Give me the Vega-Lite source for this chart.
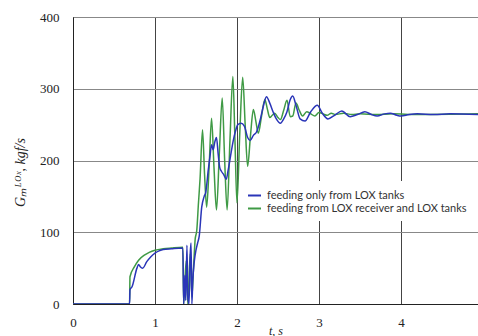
{
  "$schema": "https://vega.github.io/schema/vega-lite/v6.json",
  "autosize": {"type": "none"},
  "width": 405,
  "height": 287,
  "padding": {"left": 73, "top": 17, "right": 0, "bottom": 32},
  "background": "white",
  "config": {
    "view": {"stroke": "#333", "strokeWidth": 1},
    "axis": {"labelFont": "Liberation Serif", "labelFontSize": 13, "labelColor": "#222", "titleFont": "Liberation Serif", "titleFontStyle": "italic", "titleFontWeight": "normal", "titleFontSize": 13, "titleColor": "#222", "ticks": false, "domainColor": "#222"}
  },
  "data": {"values": [
    {"s":"g","t":0,"G":0},{"s":"g","t":0.69,"G":0},{"s":"g","t":0.695,"G":38},{"s":"g","t":0.75,"G":52},{"s":"g","t":0.8,"G":61},{"s":"g","t":0.87,"G":68},{"s":"g","t":0.93,"G":72},{"s":"g","t":1.0,"G":75},{"s":"g","t":1.1,"G":77},{"s":"g","t":1.2,"G":78},{"s":"g","t":1.34,"G":79},{"s":"g","t":1.35,"G":0},{"s":"g","t":1.38,"G":60},{"s":"g","t":1.40,"G":0},{"s":"g","t":1.43,"G":70},{"s":"g","t":1.45,"G":10},{"s":"g","t":1.47,"G":50},{"s":"g","t":1.49,"G":90},{"s":"g","t":1.51,"G":103},{"s":"g","t":1.53,"G":140},{"s":"g","t":1.55,"G":175},{"s":"g","t":1.58,"G":243},{"s":"g","t":1.605,"G":180},{"s":"g","t":1.63,"G":135},{"s":"g","t":1.66,"G":190},{"s":"g","t":1.69,"G":259},{"s":"g","t":1.72,"G":190},{"s":"g","t":1.75,"G":131},{"s":"g","t":1.785,"G":210},{"s":"g","t":1.82,"G":287},{"s":"g","t":1.85,"G":200},{"s":"g","t":1.88,"G":131},{"s":"g","t":1.915,"G":230},{"s":"g","t":1.95,"G":317},{"s":"g","t":1.975,"G":230},{"s":"g","t":2.0,"G":141},{"s":"g","t":2.035,"G":240},{"s":"g","t":2.07,"G":316},{"s":"g","t":2.10,"G":250},{"s":"g","t":2.13,"G":192},{"s":"g","t":2.165,"G":235},{"s":"g","t":2.2,"G":271},{"s":"g","t":2.23,"G":255},{"s":"g","t":2.26,"G":238},{"s":"g","t":2.30,"G":262},{"s":"g","t":2.34,"G":285},{"s":"g","t":2.37,"G":272},{"s":"g","t":2.40,"G":260},{"s":"g","t":2.43,"G":263},{"s":"g","t":2.46,"G":266},{"s":"g","t":2.5,"G":260},{"s":"g","t":2.53,"G":257},{"s":"g","t":2.57,"G":270},{"s":"g","t":2.61,"G":284},{"s":"g","t":2.65,"G":261},{"s":"g","t":2.68,"G":262},{"s":"g","t":2.72,"G":280},{"s":"g","t":2.76,"G":270},{"s":"g","t":2.80,"G":262},{"s":"g","t":2.85,"G":268},{"s":"g","t":2.90,"G":265},{"s":"g","t":2.95,"G":262},{"s":"g","t":3.0,"G":267},{"s":"g","t":3.05,"G":265},{"s":"g","t":3.1,"G":263},{"s":"g","t":3.15,"G":266},{"s":"g","t":3.2,"G":264},{"s":"g","t":3.3,"G":266},{"s":"g","t":3.4,"G":264},{"s":"g","t":3.5,"G":265},{"s":"g","t":3.7,"G":264},{"s":"g","t":3.9,"G":265},{"s":"g","t":4.2,"G":264},{"s":"g","t":4.94,"G":265},
    {"s":"b","t":0,"G":0},{"s":"b","t":0.69,"G":0},{"s":"b","t":0.695,"G":20},{"s":"b","t":0.72,"G":24},{"s":"b","t":0.78,"G":50},{"s":"b","t":0.80,"G":55},{"s":"b","t":0.82,"G":52},{"s":"b","t":0.85,"G":50},{"s":"b","t":0.9,"G":59},{"s":"b","t":0.95,"G":66},{"s":"b","t":1.0,"G":71},{"s":"b","t":1.05,"G":74},{"s":"b","t":1.1,"G":76},{"s":"b","t":1.2,"G":77},{"s":"b","t":1.34,"G":78},{"s":"b","t":1.35,"G":0},{"s":"b","t":1.365,"G":40},{"s":"b","t":1.375,"G":5},{"s":"b","t":1.39,"G":82},{"s":"b","t":1.40,"G":10},{"s":"b","t":1.415,"G":0},{"s":"b","t":1.43,"G":70},{"s":"b","t":1.44,"G":85},{"s":"b","t":1.45,"G":0},{"s":"b","t":1.46,"G":30},{"s":"b","t":1.48,"G":60},{"s":"b","t":1.50,"G":75},{"s":"b","t":1.52,"G":85},{"s":"b","t":1.54,"G":95},{"s":"b","t":1.57,"G":135},{"s":"b","t":1.60,"G":150},{"s":"b","t":1.62,"G":156},{"s":"b","t":1.65,"G":187},{"s":"b","t":1.67,"G":205},{"s":"b","t":1.69,"G":222},{"s":"b","t":1.71,"G":215},{"s":"b","t":1.73,"G":226},{"s":"b","t":1.75,"G":232},{"s":"b","t":1.77,"G":210},{"s":"b","t":1.79,"G":190},{"s":"b","t":1.81,"G":185},{"s":"b","t":1.84,"G":180},{"s":"b","t":1.87,"G":174},{"s":"b","t":1.89,"G":185},{"s":"b","t":1.92,"G":205},{"s":"b","t":1.95,"G":225},{"s":"b","t":1.98,"G":240},{"s":"b","t":2.01,"G":250},{"s":"b","t":2.05,"G":252},{"s":"b","t":2.09,"G":248},{"s":"b","t":2.13,"G":232},{"s":"b","t":2.16,"G":228},{"s":"b","t":2.2,"G":235},{"s":"b","t":2.24,"G":240},{"s":"b","t":2.28,"G":255},{"s":"b","t":2.32,"G":275},{"s":"b","t":2.36,"G":289},{"s":"b","t":2.40,"G":280},{"s":"b","t":2.44,"G":268},{"s":"b","t":2.48,"G":258},{"s":"b","t":2.53,"G":252},{"s":"b","t":2.57,"G":258},{"s":"b","t":2.61,"G":268},{"s":"b","t":2.65,"G":285},{"s":"b","t":2.68,"G":290},{"s":"b","t":2.72,"G":277},{"s":"b","t":2.77,"G":258},{"s":"b","t":2.83,"G":255},{"s":"b","t":2.9,"G":268},{"s":"b","t":2.98,"G":277},{"s":"b","t":3.04,"G":266},{"s":"b","t":3.11,"G":258},{"s":"b","t":3.19,"G":263},{"s":"b","t":3.28,"G":269},{"s":"b","t":3.38,"G":261},{"s":"b","t":3.47,"G":264},{"s":"b","t":3.56,"G":268},{"s":"b","t":3.64,"G":264},{"s":"b","t":3.71,"G":262},{"s":"b","t":3.8,"G":265},{"s":"b","t":3.87,"G":266},{"s":"b","t":3.95,"G":263},{"s":"b","t":4.0,"G":262},{"s":"b","t":4.1,"G":264},{"s":"b","t":4.2,"G":265},{"s":"b","t":4.4,"G":264},{"s":"b","t":4.6,"G":265},{"s":"b","t":4.94,"G":264}
  ]},
  "transform": [
    {"calculate": "datum.s === 'b' ? 'feeding only from LOX tanks' : 'feeding from LOX receiver and LOX tanks'", "as": "series"}
  ],
  "mark": {"type": "line", "interpolate": "monotone", "strokeWidth": 1.5, "clip": true},
  "encoding": {
    "x": {"field": "t", "type": "quantitative", "scale": {"domain": [0, 4.94], "nice": false, "zero": false},
      "axis": {"values": [0, 1, 2, 3, 4], "title": "t, s", "labelFont": "Liberation Serif", "labelFontSize": 13, "titleFont": "Liberation Serif", "titleFontSize": 12, "labelPadding": 12, "titlePadding": -4, "gridColor": "#444", "gridOpacity": 1, "gridWidth": 1, "labelFlush": false}},
    "y": {"field": "G", "type": "quantitative", "scale": {"domain": [0, 400], "nice": false},
      "axis": {"values": [0, 100, 200, 300, 400], "title": "Gₘᴸᴼˣ, kgf/s", "labelFont": "Liberation Serif", "labelFontSize": 13, "titleFont": "Liberation Serif", "titleFontSize": 14, "labelPadding": 14, "titleX": -46, "titleY": 155, "gridColor": "#888", "gridOpacity": 1, "gridWidth": 1}},
    "color": {"field": "series", "type": "nominal",
      "scale": {"domain": ["feeding only from LOX tanks", "feeding from LOX receiver and LOX tanks"], "range": ["#2a35b8", "#3f9a45"]},
      "legend": {"title": null, "orient": "none", "legendX": 167, "legendY": 164, "padding": 7, "fillColor": "white", "symbolType": "stroke", "symbolSize": 169, "symbolStrokeWidth": 2, "labelFont": "Lato", "labelFontSize": 11, "labelColor": "#333", "labelOffset": 5, "labelLimit": 0, "rowPadding": 0}}
  }
}
